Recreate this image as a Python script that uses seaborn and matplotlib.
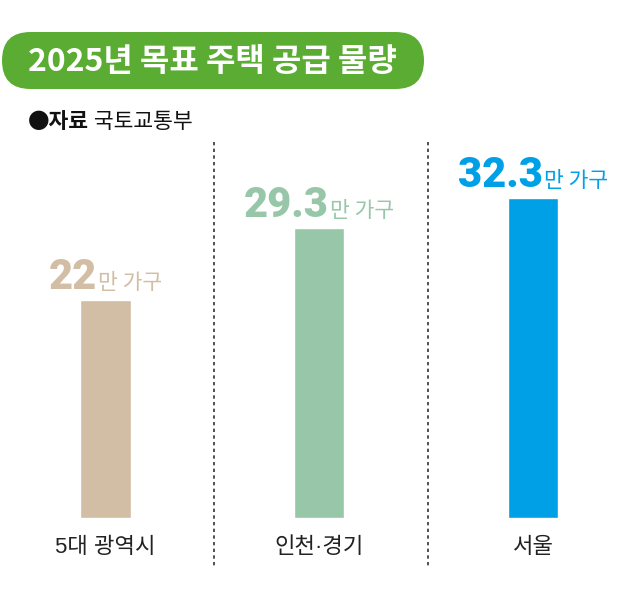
import matplotlib
matplotlib.use("Agg")
import matplotlib.pyplot as plt
import seaborn as sns
import pandas as pd
from matplotlib.patches import FancyBboxPatch
from matplotlib.offsetbox import TextArea, HPacker, AnnotationBbox

# ---- data ----
categories = ["5대 광역시", "인천·경기", "서울"]
values = [22, 29.3, 32.3]
value_labels = ["22", "29.3", "32.3"]
unit_label = "만 가구"
colors = ["#d1bea4", "#97c7a8", "#00a0e6"]
title = "2025년 목표 주택 공급 물량"
source_bold = "●자료"
source_text = " 국토교통부"

sns.set_theme(style="white")
plt.rcParams['font.family'] = ['Noto Sans CJK KR', 'DejaVu Sans']

W, H = 640, 600
fig = plt.figure(figsize=(6.4, 6.0), dpi=100)
fig.patch.set_facecolor("white")

# main bar axes: baseline at y=518px from top, 9.9 px per unit
ax = fig.add_axes([0, 82 / H, 1, 418 / H])
df = pd.DataFrame({"region": categories, "value": values})
sns.barplot(data=df, x="region", y="value", hue="region", palette=colors,
            width=0.234, legend=False, errorbar=None, saturation=1, ax=ax)
ax.set_xlim(-0.4936, 2.5006)
ax.set_ylim(0, 418 / 9.9)
ax.patch.set_alpha(0)
for s in ax.spines.values():
    s.set_visible(False)
ax.set_yticks([])
ax.set_xlabel("")
ax.set_ylabel("")
ax.tick_params(axis="x", length=0, pad=14, labelsize=16, labelcolor="#222222")
for lbl in ax.get_xticklabels():
    lbl.set_fontfamily(["Liberation Sans", "Noto Sans CJK KR"])

# value labels
for i, (v, lab, c) in enumerate(zip(values, value_labels, colors)):
    num = TextArea(lab, textprops=dict(color=c, fontsize=30, fontweight=900,
                                       family=["Roboto", "DejaVu Sans"]))
    unit = TextArea(unit_label, textprops=dict(color=c, fontsize=15.5,
                                               family=["Noto Sans CJK KR", "DejaVu Sans"]))
    pack = HPacker(children=[num, unit], align="baseline", pad=0, sep=1)
    ab = AnnotationBbox(pack, (i, v), xybox=(0, 1.5), boxcoords="offset points",
                        box_alignment=(0.5, 0), frameon=False, pad=0,
                        annotation_clip=False)
    ax.add_artist(ab)

# decoration overlay in pixel coordinates
deco = fig.add_axes([0, 0, 1, 1], zorder=5)
deco.set_xlim(0, W)
deco.set_ylim(H, 0)
deco.axis("off")
deco.patch.set_alpha(0)

pill = FancyBboxPatch((2, 32), 422, 57, boxstyle="round,pad=0,rounding_size=28.5",
                      facecolor="#5aad32", edgecolor="none")
deco.add_patch(pill)
deco.text(212.5, 62, title, color="white", fontsize=23, fontweight="bold",
          ha="center", va="center")

t1 = deco.text(28, 122, source_bold, fontsize=15.5, fontweight="bold",
               color="#111111", ha="left", va="center")
deco.annotate(source_text, xy=(1, 0), xycoords=t1, fontsize=15.5,
              color="#111111", ha="left", va="bottom")

for x in (214, 428):
    deco.plot([x, x], [142, 566], color="#333333", lw=1.2, ls=(0, (2, 2)))

fig.savefig("out.png", dpi=100)
